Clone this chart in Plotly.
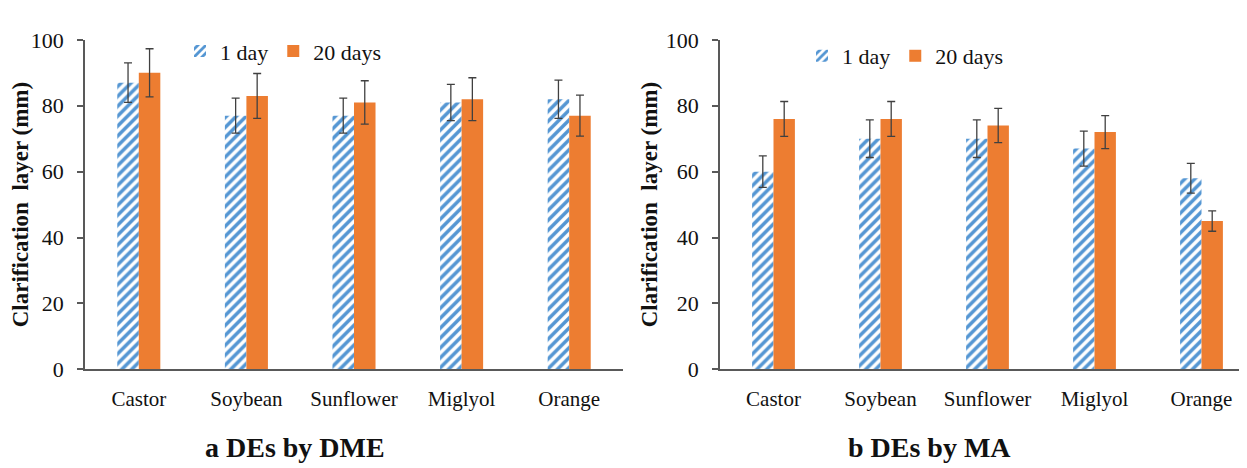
import plotly.graph_objects as go

categories = ["Castor", "Soybean", "Sunflower", "Miglyol", "Orange"]

# Panel a: DEs by DME
dme_1day = [87, 77, 77, 81, 82]
dme_1day_err = [6.0, 5.3, 5.3, 5.5, 5.8]
dme_20days = [90, 83, 81, 82, 77]
dme_20days_err = [7.3, 6.8, 6.6, 6.5, 6.2]

# Panel b: DEs by MA
ma_1day = [60, 70, 70, 67, 58]
ma_1day_err = [4.8, 5.7, 5.7, 5.3, 4.5]
ma_20days = [76, 76, 74, 72, 45]
ma_20days_err = [5.3, 5.3, 5.2, 5.0, 3.1]

y_ticks = [0, 20, 40, 60, 80, 100]
series_names = ["1 day", "20 days"]
panel_titles = ["a DEs by DME", "b DEs by MA"]
y_title = "Clarification  layer (mm)"

W, H = 1247, 468
FONT = "Liberation Serif"
BLUE = "#5496D3"
ORANGE = "#ED7D31"
AXIS = "#595959"
ERR = "#404040"
TXT = "#111111"

def px_x(p):
    return p / W

def px_y(p):
    return (H - p) / H

fig = go.Figure()

panels = [
    ("x", "y", "legend", dme_1day, dme_1day_err, dme_20days, dme_20days_err),
    ("x2", "y2", "legend2", ma_1day, ma_1day_err, ma_20days, ma_20days_err),
]

for xa, ya, lg, v1, e1, v20, e20 in panels:
    fig.add_trace(go.Bar(
        x=categories, y=v1, name=series_names[0], xaxis=xa, yaxis=ya, legend=lg,
        marker=dict(color="white", line=dict(width=0),
                    pattern=dict(shape="/", fgcolor=BLUE, bgcolor="white",
                                 fgopacity=1, size=7, solidity=0.5)),
        error_y=dict(type="data", array=e1, visible=True, color=ERR,
                     thickness=1.3, width=4),
    ))
    fig.add_trace(go.Bar(
        x=categories, y=v20, name=series_names[1], xaxis=xa, yaxis=ya, legend=lg,
        marker=dict(color=ORANGE, line=dict(width=0)),
        error_y=dict(type="data", array=e20, visible=True, color=ERR,
                     thickness=1.3, width=4),
    ))

ydom = [px_y(369), px_y(21)]
xaxis_common = dict(
    showline=True, linecolor=AXIS, linewidth=1.5, ticks="", showgrid=False,
    zeroline=False, range=[-0.5, 4.5], type="category",
    tickfont=dict(family=FONT, size=21, color=TXT), ticklabelstandoff=10,
)
yaxis_common = dict(
    showline=True, linecolor=AXIS, linewidth=1.5, ticks="outside", ticklen=6,
    tickcolor=AXIS, tickwidth=1.5, showgrid=False, zeroline=False,
    range=[0, 100], tickvals=y_ticks,
    tickfont=dict(family=FONT, size=22, color=TXT), ticklabelstandoff=9,
    title=dict(text="<b>" + y_title + "</b>", standoff=2,
               font=dict(family=FONT, size=23, color=TXT)),
)

fig.update_layout(
    width=W, height=H,
    margin=dict(l=0, r=0, t=0, b=0),
    paper_bgcolor="white", plot_bgcolor="white",
    barmode="group", bargap=0.6, bargroupgap=0.0,
    font=dict(family=FONT, color=TXT),
    xaxis=dict(domain=[px_x(77), px_x(615)], anchor="y", **xaxis_common),
    yaxis=dict(domain=ydom, anchor="x", **yaxis_common),
    xaxis2=dict(domain=[px_x(712), px_x(1247)], anchor="y2", **xaxis_common),
    yaxis2=dict(domain=ydom, anchor="x2", **yaxis_common),
    legend=dict(orientation="h", x=px_x(172), y=px_y(33), xanchor="left",
                yanchor="middle", bgcolor="rgba(0,0,0,0)",
                font=dict(family=FONT, size=22, color=TXT)),
    legend2=dict(orientation="h", x=px_x(794), y=px_y(38), xanchor="left",
                 yanchor="middle", bgcolor="rgba(0,0,0,0)",
                 font=dict(family=FONT, size=22, color=TXT)),
    showlegend=True,
    annotations=[
        dict(text="<b>" + panel_titles[0] + "</b>", x=px_x(287), y=px_y(452),
             xref="paper", yref="paper", showarrow=False, xanchor="center",
             yanchor="middle", font=dict(family=FONT, size=28, color=TXT)),
        dict(text="<b>" + panel_titles[1] + "</b>", x=px_x(921), y=px_y(452),
             xref="paper", yref="paper", showarrow=False, xanchor="center",
             yanchor="middle", font=dict(family=FONT, size=28, color=TXT)),
    ],
)

fig.write_html("out.html")
